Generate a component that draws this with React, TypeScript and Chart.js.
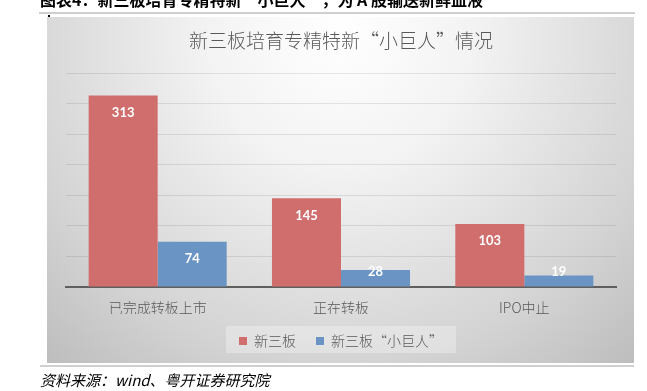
import React, { useEffect, useRef } from "react";
import { Chart, registerables } from "chart.js";

Chart.register(...registerables);

const categories = ["已完成转板上市", "正在转板", "IPO中止"];
const seriesNames = ["新三板", "新三板“小巨人”"];
const seriesAll = [313, 145, 103];
const seriesGiants = [74, 28, 19];
const chartTitle = "新三板培育专精特新“小巨人”情况";
const headerText = "图表4：新三板培育专精特新“小巨人”，为 A 股输送新鲜血液";
const sourceText = "资料来源：wind、粤开证券研究院";

const CJK = '"Noto Sans CJK SC", "Noto Sans", sans-serif';

const decorPlugin = {
  id: "decor",
  beforeDraw(chart: any) {
    const ctx = chart.ctx;
    ctx.save();
    // header text (cut at top)
    ctx.fillStyle = "#000";
    ctx.font = `bold 16px ${CJK}`;
    ctx.textBaseline = "alphabetic";
    ctx.textAlign = "left";
    ctx.fillText(headerText, 40, 6);
    // lines
    ctx.fillStyle = "#cfcfcf";
    ctx.fillRect(39, 12, 596, 2);
    ctx.fillRect(40, 365, 594, 2);
    // gradient box
    const g = ctx.createRadialGradient(340, 35, 0, 340, 35, 440);
    g.addColorStop(0, "#ffffff");
    g.addColorStop(0.3, "#f3f3f3");
    g.addColorStop(0.75, "#d3d3d3");
    g.addColorStop(1, "#bdbdbd");
    ctx.fillStyle = g;
    ctx.fillRect(47, 17, 587, 346);
    // black dot
    ctx.fillStyle = "#000";
    ctx.fillRect(48, 15, 2, 2);
    // legend background
    const area = chart.chartArea;
    const cx = (area.left + area.right) / 2;
    ctx.fillStyle = "rgba(255,255,255,0.3)";
    ctx.fillRect(cx - 115, 326, 230, 27);
    // source text
    ctx.fillStyle = "#000";
    ctx.font = `italic 15px ${CJK}`;
    ctx.textBaseline = "middle";
    ctx.fillText(sourceText, 40, 380);
    ctx.restore();
  },
};

const labelPlugin = {
  id: "barLabels",
  afterDatasetsDraw(chart: any) {
    const ctx = chart.ctx;
    ctx.save();
    ctx.fillStyle = "#ffffff";
    ctx.font = 'bold 13px Lato, "Open Sans", sans-serif';
    ctx.textAlign = "center";
    ctx.textBaseline = "middle";
    chart.data.datasets.forEach((ds: any, di: number) => {
      const meta = chart.getDatasetMeta(di);
      meta.data.forEach((bar: any, i: number) => {
        const y = Math.min(bar.y + 17, bar.base - 15);
        ctx.fillText(String(ds.data[i]), bar.x, y);
      });
    });
    ctx.restore();
  },
};

export default function App() {
  const ref = useRef<HTMLCanvasElement>(null);
  useEffect(() => {
    if (!ref.current) return;
    const chart = new Chart(ref.current, {
      type: "bar",
      data: {
        labels: categories,
        datasets: [
          {
            label: seriesNames[0],
            data: seriesAll,
            backgroundColor: "rgb(208,110,110)",
            borderWidth: 0,
            categoryPercentage: 0.753,
            barPercentage: 1,
          },
          {
            label: seriesNames[1],
            data: seriesGiants,
            backgroundColor: "rgb(106,148,196)",
            borderWidth: 0,
            categoryPercentage: 0.753,
            barPercentage: 1,
          },
        ],
      },
      options: {
        animation: false,
        responsive: false,
        devicePixelRatio: 1,
        layout: { padding: { left: 66, right: 31, top: 29.6, bottom: 33 } },
        plugins: {
          title: {
            display: true,
            text: chartTitle,
            color: "#595959",
            font: { family: CJK, size: 19, weight: "300" },
            padding: { top: 0, bottom: 20.6 },
          },
          legend: {
            display: true,
            position: "bottom",
            labels: {
              boxWidth: 8,
              boxHeight: 8,
              padding: 20,
              color: "#595959",
              font: { family: CJK, size: 14, weight: "300" },
            },
          },
          tooltip: { enabled: false },
        },
        scales: {
          x: {
            grid: { display: false, drawTicks: false },
            border: { display: true, color: "#5f5f5f", width: 2 },
            ticks: {
              color: "#595959",
              font: { family: CJK, size: 14, weight: "300" },
              padding: 12,
            },
            afterFit: (scale: any) => {
              scale.height = 27;
            },
          },
          y: {
            min: 0,
            max: 350,
            ticks: { display: false, stepSize: 50 },
            grid: { color: "rgba(0,0,0,0.09)", drawTicks: false },
            border: { display: false },
          },
        },
      },
      plugins: [decorPlugin, labelPlugin],
    });
    return () => chart.destroy();
  }, []);
  return (
    <div style={{ position: "absolute", left: 0, top: 0, width: 647, height: 391, background: "#fff" }}>
      <canvas ref={ref} width={647} height={391} style={{ display: "block" }} />
    </div>
  );
}
